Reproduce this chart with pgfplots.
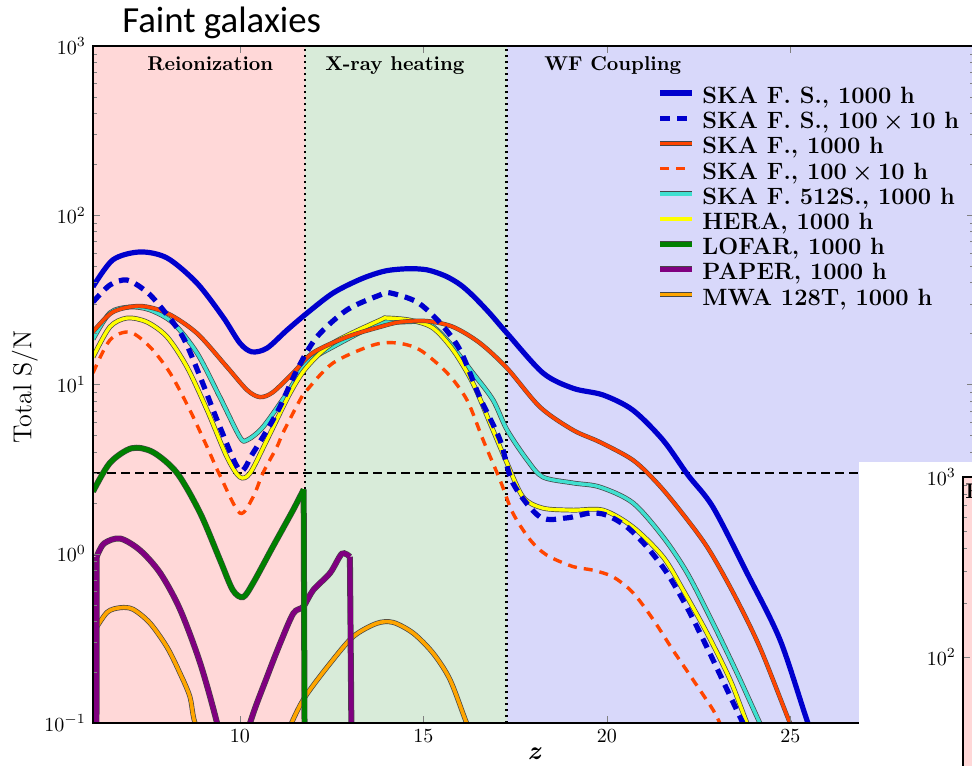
\documentclass[border=0pt]{standalone}
\usepackage{fontspec}
\usepackage{pgfplots}
\usepackage{pgfplotstable}
\pgfplotsset{compat=1.18}
\newfontfamily\calibri{Carlito}

\definecolor{skablue}{RGB}{0,0,205}
\definecolor{skared}{RGB}{255,69,0}
\definecolor{skacyan}{RGB}{64,224,208}
\definecolor{herayellow}{RGB}{255,255,0}
\definecolor{lofargreen}{RGB}{0,128,0}
\definecolor{paperpurple}{RGB}{128,0,128}
\definecolor{mwaorange}{RGB}{255,165,0}
\definecolor{reionbg}{RGB}{255,216,216}
\definecolor{xraybg}{RGB}{216,235,217}
\definecolor{wfbg}{RGB}{216,216,250}
\definecolor{lineedge}{RGB}{70,70,70}

% total S/N against redshift z
\pgfplotstableread{
z sn
6.0 0.34
6.38 0.45
6.74 0.48
7.09 0.47
7.55 0.39
8.02 0.28
8.37 0.197
8.64 0.143
8.78 0.1
9.2 0.06
10.5 0.04
11.0 0.06
11.41 0.1
11.78 0.143
12.46 0.225
13.09 0.324
13.73 0.388
14.18 0.393
14.73 0.339
15.27 0.258
15.73 0.18
16.18 0.1
16.5 0.07
}\mwa
\pgfplotstableread{
z sn
6.09 0.01
6.1 0.96
6.3 1.15
6.74 1.23
7.28 1.05
7.83 0.77
8.37 0.47
8.92 0.226
9.38 0.1
9.8 0.04
10.28 0.1
10.74 0.187
11.10 0.296
11.46 0.445
11.73 0.487
12.0 0.61
12.46 0.77
12.78 1.0
13.0 0.96
13.08 0.01
}\paper
\pgfplotstableread{
z sn
6.0 2.33
6.46 3.44
7.05 4.2
7.63 3.99
8.29 3.0
8.92 1.74
9.46 0.92
9.81 0.61
10.09 0.555
10.36 0.67
10.9 1.10
11.45 1.81
11.74 2.4
11.78 0.01
}\lofar
\pgfplotstableread{
z sn
6.0 18.5
6.46 26.5
7.0 28.7
7.55 27.6
8.18 23.1
8.83 15.4
9.46 8.4
10.0 4.9
10.2 4.7
10.63 5.6
11.29 8.9
11.83 13.4
12.54 16.7
13.82 23.1
14.37 23.4
15.1 23.1
15.65 18.3
16.35 11.7
16.9 8.1
17.28 5.4
17.83 3.58
18.26 2.84
19.08 2.62
19.81 2.48
20.71 2.0
21.53 1.26
22.19 0.77
22.89 0.39
23.55 0.197
24.17 0.1
24.4 0.08
}\skafss
\pgfplotstableread{
z sn
6.0 14.5
6.46 21.9
6.93 24.7
7.47 23.4
8.02 19.1
8.56 12.7
9.11 7.06
9.65 3.73
10.0 2.84
10.28 3.0
10.74 4.7
11.37 8.9
11.83 12.7
12.54 17.6
13.82 24.0
14.01 24.7
14.64 24.0
15.26 21.6
15.81 16.0
16.35 10.2
16.82 5.9
17.28 3.44
17.72 2.16
18.26 1.86
19.08 1.81
19.9 1.81
20.71 1.44
21.53 0.96
22.08 0.61
22.73 0.34
23.36 0.18
23.82 0.1
24.0 0.085
}\hera
\pgfplotstableread{
z sn
6.0 11.7
6.46 18.3
7.0 20.4
7.55 16.7
8.10 11.7
8.64 7.06
9.11 4.27
9.46 2.9
10.0 1.74
10.36 2.16
10.63 3.0
11.01 4.27
11.18 5.2
11.64 8.1
11.83 9.27
12.54 13.4
13.63 17.1
14.28 17.6
14.91 16.0
15.65 11.7
16.19 8.1
16.63 4.7
17.09 2.73
17.44 1.74
17.91 1.21
18.37 0.98
19.08 0.84
19.62 0.80
20.17 0.73
20.71 0.59
21.26 0.41
21.8 0.27
22.35 0.18
22.89 0.12
23.08 0.1
23.3 0.08
}\skafshort
\pgfplotstableread{
z sn
6.0 20.5
6.54 26.8
7.28 29.1
8.02 26.4
8.83 20.1
9.65 12.7
10.2 9.27
10.55 8.43
10.9 9.0
11.45 11.7
11.99 15.4
12.92 19.1
13.82 21.9
14.37 23.4
15.10 23.7
15.81 21.9
16.54 17.6
17.28 12.5
18.18 7.36
19.08 5.38
19.81 4.57
20.71 3.58
21.37 2.62
21.99 1.81
22.73 1.10
23.44 0.59
24.17 0.28
24.99 0.1
25.2 0.08
}\skaf
\pgfplotstableread{
z sn
6.0 30.7
6.46 38.7
6.93 41.4
7.47 35.2
7.91 27.6
8.45 19.1
8.92 11.1
9.46 5.6
10.0 3.12
10.36 3.94
11.01 6.8
11.56 12.2
12.10 19.1
12.92 27.6
13.82 33.8
14.09 34.8
14.83 30.7
15.46 23.1
16.0 16.0
16.54 8.4
17.09 4.7
17.44 2.62
18.18 1.65
18.92 1.63
19.54 1.74
20.0 1.69
20.55 1.44
21.09 1.10
21.64 0.77
22.19 0.48
22.73 0.28
23.28 0.157
23.71 0.1
24.0 0.075
}\skafsshort
\pgfplotstableread{
z sn
6.0 37.8
6.54 54.5
7.28 60.7
8.02 55.9
8.83 39.8
9.54 25.1
10.0 17.6
10.33 15.6
10.74 16.4
11.29 21.0
11.83 26.4
12.54 34.7
13.3 42.0
13.95 46.8
14.56 48.3
15.1 47.6
15.6 43.8
16.0 39.0
16.35 33.5
16.8 26.5
17.28 20.1
18.26 11.7
19.08 9.5
19.90 8.67
20.71 7.06
21.53 4.70
22.21 2.92
22.89 1.89
23.82 0.77
24.72 0.31
25.48 0.1
25.8 0.07
}\skafs

\begin{document}
\begin{tikzpicture}

\begin{axis}[
  scale only axis,
  at={(46.5pt,-361.5pt)}, anchor=south west,
  width=440.4pt, height=338.5pt,
  ymode=log, ymin=0.1, ymax=1000,
  xmin=6, xmax=30,
  xtick={10,15,20,25},
  ytick={0.1,1,10,100,1000},
  tick align=inside,
  major tick length=3.5pt, minor tick length=1.8pt,
  axis line style={line width=1pt},
  axis on top,
  smooth, tension=0.5,
]
% epochs
\addplot[sharp plot, fill=reionbg, draw=none, forget plot] coordinates {(6,0.1) (11.77,0.1) (11.77,1000) (6,1000)};
\addplot[sharp plot, fill=xraybg, draw=none, forget plot] coordinates {(11.77,0.1) (17.27,0.1) (17.27,1000) (11.77,1000)};
\addplot[sharp plot, fill=wfbg, draw=none, forget plot] coordinates {(17.27,0.1) (30,0.1) (30,1000) (17.27,1000)};
\addplot[sharp plot, black, line width=1.2pt, dash pattern=on 1pt off 2pt, forget plot] coordinates {(11.77,0.1) (11.77,1000)};
\addplot[sharp plot, black, line width=1.2pt, dash pattern=on 1pt off 2pt, forget plot] coordinates {(17.27,0.1) (17.27,1000)};
% detection threshold S/N = 3
\addplot[sharp plot, black, line width=1.2pt, dash pattern=on 4.5pt off 2.5pt, forget plot] coordinates {(6,3) (30,3)};

% each solid curve: a dark rim underneath, then the colour
\addplot[lineedge, line width=2.5pt] table[x=z, y=sn] {\mwa};
\addplot[mwaorange, line width=1.8pt] table[x=z, y=sn] {\mwa};
% PAPER: vertical edges at both ends, smooth in between
\addplot[sharp plot, lineedge, line width=3pt, restrict x to domain=6:6.1] table[x=z, y=sn] {\paper};
\addplot[sharp plot, lineedge, line width=3pt, restrict x to domain=13:13.1] table[x=z, y=sn] {\paper};
\addplot[lineedge, line width=3pt, restrict x to domain=6.1:13] table[x=z, y=sn] {\paper};
\addplot[sharp plot, paperpurple, line width=2.4pt, restrict x to domain=6:6.1] table[x=z, y=sn] {\paper};
\addplot[sharp plot, paperpurple, line width=2.4pt, restrict x to domain=13:13.1] table[x=z, y=sn] {\paper};
\addplot[paperpurple, line width=2.4pt, restrict x to domain=6.1:13] table[x=z, y=sn] {\paper};
% LOFAR: smooth, then a vertical drop
\addplot[lineedge, line width=3pt, restrict x to domain=6:11.74] table[x=z, y=sn] {\lofar};
\addplot[sharp plot, lineedge, line width=3pt, restrict x to domain=11.74:11.8] table[x=z, y=sn] {\lofar};
\addplot[lofargreen, line width=2.4pt, restrict x to domain=6:11.74] table[x=z, y=sn] {\lofar};
\addplot[sharp plot, lofargreen, line width=2.4pt, restrict x to domain=11.74:11.8] table[x=z, y=sn] {\lofar};
\addplot[lineedge, line width=2.4pt] table[x=z, y=sn] {\skafss};
\addplot[skacyan, line width=1.7pt] table[x=z, y=sn] {\skafss};
\addplot[lineedge, line width=2.4pt] table[x=z, y=sn] {\hera};
\addplot[herayellow, line width=1.7pt] table[x=z, y=sn] {\hera};
\addplot[skared, line width=1.7pt, dash pattern=on 4.5pt off 3.5pt] table[x=z, y=sn] {\skafshort};
\addplot[lineedge, line width=2.2pt] table[x=z, y=sn] {\skaf};
\addplot[skared, line width=1.7pt] table[x=z, y=sn] {\skaf};
\addplot[skablue, line width=2.6pt, dash pattern=on 5pt off 3.5pt] table[x=z, y=sn] {\skafsshort};
\addplot[skablue, line width=2.6pt] table[x=z, y=sn] {\skafs};
\end{axis}

% title, axis names and epoch labels
\node[anchor=base west, inner sep=0pt, font=\calibri\fontsize{18.4}{22}\selectfont]
  at (61pt,-16.5pt) {Faint galaxies};
\node[rotate=90, inner sep=0pt, font=\fontsize{13}{15}\selectfont]
  at (12.5pt,-193.5pt) {Total S/N};
\node[inner sep=0pt, font=\fontsize{13}{15}\selectfont\bfseries\itshape]
  at (267pt,-377pt) {z};
\node[anchor=base west, inner sep=0pt, font=\bfseries]
  at (73.5pt,-35pt) {Reionization};
\node[anchor=base west, inner sep=0pt, font=\bfseries]
  at (162.5pt,-35pt) {X-ray heating};
\node[anchor=base west, inner sep=0pt, font=\bfseries]
  at (272pt,-35pt) {WF Coupling};

% legend: sample lines at 12.6pt spacing, text baselines 5.2pt below each line
\begin{scope}[shift={(330pt,-46.5pt)}, font=\fontsize{11.8}{12}\selectfont\bfseries]
\draw[skablue, line width=2.6pt] (0pt,0pt) -- (16pt,0pt);
\node[anchor=base west, inner sep=0pt] at (21pt,-5.2pt) {SKA F. S., 1000 h};
\draw[skablue, line width=2.6pt, dash pattern=on 5pt off 3.5pt] (0pt,-12.6pt) -- (16pt,-12.6pt);
\node[anchor=base west, inner sep=0pt] at (21pt,-17.8pt) {SKA F. S., 100\hspace{0.22em}×\hspace{0.22em}10 h};
\draw[lineedge, line width=2.2pt] (0pt,-25.2pt) -- (16pt,-25.2pt);
\draw[skared, line width=1.7pt] (0pt,-25.2pt) -- (16pt,-25.2pt);
\node[anchor=base west, inner sep=0pt] at (21pt,-30.4pt) {SKA F., 1000 h};
\draw[skared, line width=1.7pt, dash pattern=on 4.5pt off 3.5pt] (0pt,-37.8pt) -- (16pt,-37.8pt);
\node[anchor=base west, inner sep=0pt] at (21pt,-43pt) {SKA F., 100\hspace{0.22em}×\hspace{0.22em}10 h};
\draw[lineedge, line width=2.4pt] (0pt,-50.4pt) -- (16pt,-50.4pt);
\draw[skacyan, line width=1.7pt] (0pt,-50.4pt) -- (16pt,-50.4pt);
\node[anchor=base west, inner sep=0pt] at (21pt,-55.6pt) {SKA F. 512S., 1000 h};
\draw[lineedge, line width=2.4pt] (0pt,-63pt) -- (16pt,-63pt);
\draw[herayellow, line width=1.7pt] (0pt,-63pt) -- (16pt,-63pt);
\node[anchor=base west, inner sep=0pt] at (21pt,-68.2pt) {HERA, 1000 h};
\draw[lineedge, line width=3pt] (0pt,-75.6pt) -- (16pt,-75.6pt);
\draw[lofargreen, line width=2.4pt] (0pt,-75.6pt) -- (16pt,-75.6pt);
\node[anchor=base west, inner sep=0pt] at (21pt,-80.8pt) {LOFAR, 1000 h};
\draw[lineedge, line width=3pt] (0pt,-88.2pt) -- (16pt,-88.2pt);
\draw[paperpurple, line width=2.4pt] (0pt,-88.2pt) -- (16pt,-88.2pt);
\node[anchor=base west, inner sep=0pt] at (21pt,-93.4pt) {PAPER, 1000 h};
\draw[lineedge, line width=2.5pt] (0pt,-100.8pt) -- (16pt,-100.8pt);
\draw[mwaorange, line width=1.8pt] (0pt,-100.8pt) -- (16pt,-100.8pt);
\node[anchor=base west, inner sep=0pt] at (21pt,-106pt) {MWA 128T, 1000 h};
\end{scope}

% neighbouring panel
\fill[white] (429.5pt,-231pt) rectangle (520pt,-420pt);
\begin{axis}[
  scale only axis,
  at={(481.5pt,-238.5pt)}, anchor=north west,
  width=400pt, height=152.9pt,
  ymode=log, ymin=20, ymax=1000, xmin=6, xmax=30,
  xtick=\empty,
  ytick={100,1000},
  tick align=inside,
  major tick length=3.5pt, minor tick length=1.8pt,
  axis line style={line width=1pt},
  axis on top,
]
\addplot[fill=reionbg, draw=none] coordinates {(6,20) (11.77,20) (11.77,1000) (6,1000)};
\end{axis}
\begin{scope}
\clip (482pt,-240pt) rectangle (486pt,-260pt);
\node[anchor=base west, inner sep=0pt, font=\fontsize{10.6}{12}\selectfont\bfseries]
  at (482.5pt,-249pt) {Reionization};
\end{scope}

\pgfresetboundingbox
\useasboundingbox (0pt,0pt) rectangle (486pt,-382.5pt);
\end{tikzpicture}
\end{document}
